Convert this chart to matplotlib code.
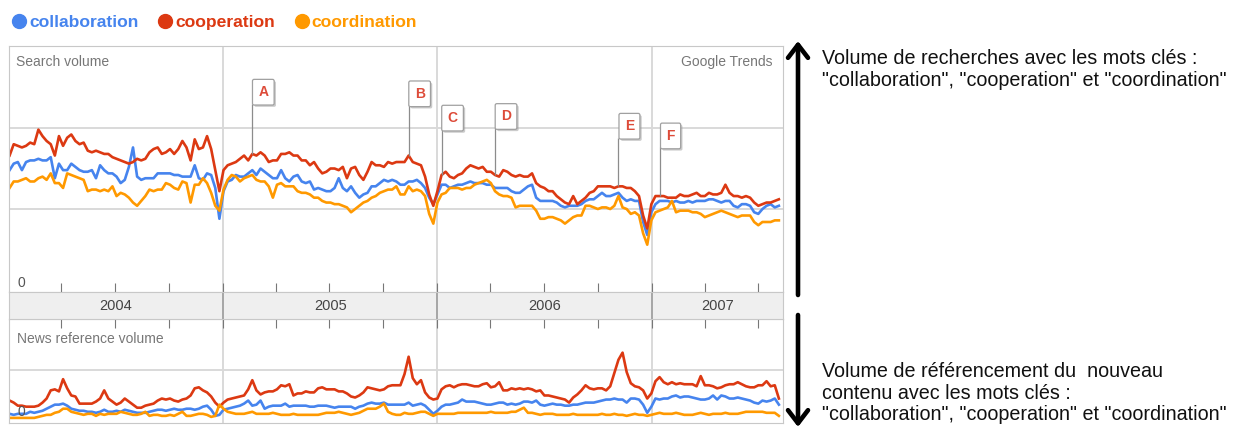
import pandas as pd
import matplotlib
matplotlib.use('Agg')
import matplotlib.pyplot as plt
import matplotlib.transforms as mtransforms
import matplotlib.patheffects as pe
from matplotlib.lines import Line2D
from matplotlib.patches import FancyArrowPatch

plt.rcParams['font.family'] = ['Liberation Sans', 'DejaVu Sans']

# weekly points, Google Trends export
weeks = pd.date_range('2004-01-04', periods=188, freq='7D')
terms = ['collaboration', 'cooperation', 'coordination']
years = ['2004', '2005', '2006', '2007']

search_collaboration = [
    74, 78, 79, 74, 79, 80, 80, 81, 80, 80,
    82, 69, 78, 74, 74, 78, 76, 74, 73, 73,
    74, 69, 77, 74, 72, 72, 70, 66, 68, 76,
    88, 70, 68, 69, 69, 69, 72, 72, 72, 72,
    71, 71, 70, 70, 70, 77, 69, 68, 72, 71,
    63, 44, 61, 67, 68, 71, 70, 70, 72, 74,
    71, 75, 73, 71, 69, 69, 74, 69, 67, 70,
    71, 67, 66, 67, 62, 63, 62, 61, 61, 63,
    69, 63, 61, 64, 60, 57, 59, 60, 64, 64,
    66, 68, 67, 68, 67, 65, 65, 67, 67, 68,
    66, 63, 57, 53, 59, 65, 65, 63, 64, 65,
    65, 66, 67, 66, 66, 66, 65, 65, 63, 63,
    63, 63, 61, 60, 60, 62, 64, 65, 57, 55,
    55, 55, 55, 54, 52, 51, 52, 52, 52, 53,
    55, 56, 56, 58, 60, 58, 58, 59, 60, 57,
    55, 56, 55, 55, 42, 34, 48, 53, 55, 55,
    55, 54, 55, 54, 54, 55, 54, 55, 55, 55,
    56, 56, 55, 54, 55, 55, 52, 51, 53, 53,
    52, 48, 47, 50, 52, 53, 51, 52]

search_cooperation = [
    83, 90, 89, 88, 89, 91, 90, 99, 95, 92,
    90, 83, 95, 89, 94, 96, 92, 90, 91, 86,
    85, 86, 85, 84, 84, 82, 81, 80, 79, 78,
    79, 81, 80, 81, 85, 87, 88, 84, 85, 87,
    84, 87, 92, 88, 80, 93, 87, 88, 95, 87,
    74, 61, 74, 77, 78, 79, 81, 83, 80, 84,
    83, 85, 83, 79, 80, 80, 84, 84, 85, 83,
    83, 80, 80, 77, 79, 75, 72, 73, 75, 75,
    74, 76, 69, 75, 76, 71, 68, 73, 79, 77,
    77, 76, 79, 78, 79, 79, 79, 83, 79, 78,
    77, 70, 59, 52, 61, 71, 73, 70, 69, 71,
    72, 75, 77, 76, 75, 76, 73, 73, 71, 70,
    74, 73, 71, 70, 71, 70, 70, 72, 66, 64,
    63, 61, 61, 58, 56, 54, 53, 58, 53, 55,
    57, 60, 61, 64, 64, 64, 64, 63, 64, 64,
    63, 63, 61, 58, 46, 38, 53, 58, 58, 58,
    57, 57, 57, 59, 58, 58, 59, 60, 58, 58,
    60, 59, 59, 60, 65, 60, 58, 58, 57, 58,
    57, 54, 52, 53, 54, 54, 55, 56]

search_coordination = [
    63, 67, 67, 68, 69, 67, 67, 69, 70, 68,
    72, 66, 66, 63, 72, 71, 70, 69, 68, 61,
    62, 62, 61, 62, 61, 64, 58, 60, 59, 57,
    54, 52, 55, 58, 62, 61, 62, 62, 66, 65,
    63, 62, 67, 66, 54, 65, 65, 69, 66, 60,
    52, 49, 62, 68, 71, 70, 67, 69, 70, 71,
    68, 67, 67, 64, 57, 65, 66, 64, 64, 64,
    61, 60, 60, 59, 57, 57, 55, 54, 54, 53,
    53, 52, 51, 48, 50, 52, 54, 55, 57, 58,
    60, 61, 62, 62, 64, 59, 59, 64, 61, 62,
    61, 58, 47, 41, 54, 59, 60, 63, 63, 63,
    62, 63, 63, 65, 66, 67, 68, 66, 61, 59,
    58, 58, 57, 51, 52, 52, 52, 52, 49, 44,
    44, 45, 45, 44, 43, 41, 43, 45, 46, 46,
    52, 52, 51, 50, 51, 51, 50, 52, 58, 51,
    50, 47, 48, 46, 35, 28, 43, 48, 49, 50,
    51, 55, 48, 49, 49, 49, 48, 48, 47, 45,
    46, 47, 48, 49, 48, 47, 46, 45, 46, 46,
    46, 42, 40, 42, 42, 42, 43, 43]

news_collaboration = [
    7, 6, 7, 7, 7, 9, 8, 9, 10, 12,
    14, 16, 16, 17, 15, 12, 11, 10, 10, 9,
    9, 8, 9, 11, 9, 9, 10, 9, 11, 10,
    9, 8, 8, 8, 9, 10, 11, 11, 10, 11,
    12, 11, 11, 12, 12, 11, 12, 14, 15, 11,
    5, 6, 11, 12, 13, 14, 15, 17, 20, 15,
    16, 20, 12, 14, 15, 15, 15, 17, 14, 15,
    15, 15, 15, 14, 14, 15, 15, 15, 14, 13,
    14, 14, 14, 14, 12, 14, 15, 17, 18, 17,
    17, 18, 16, 16, 16, 16, 16, 18, 15, 16,
    17, 15, 11, 7, 10, 14, 16, 16, 17, 18,
    21, 19, 19, 19, 18, 17, 16, 16, 17, 18,
    18, 16, 17, 16, 17, 19, 19, 18, 20, 16,
    15, 16, 17, 16, 16, 15, 15, 16, 16, 17,
    18, 18, 18, 19, 20, 21, 21, 22, 21, 21,
    18, 22, 22, 21, 16, 8, 14, 22, 21, 22,
    22, 24, 25, 23, 24, 24, 23, 22, 21, 21,
    22, 25, 21, 25, 24, 22, 22, 23, 22, 21,
    20, 18, 17, 20, 19, 20, 22, 16]

news_cooperation = [
    20, 18, 15, 15, 14, 14, 14, 15, 18, 22,
    30, 31, 29, 41, 32, 25, 24, 17, 17, 17,
    17, 19, 22, 30, 22, 19, 16, 18, 22, 19,
    16, 13, 13, 15, 16, 17, 20, 22, 21, 22,
    20, 19, 21, 22, 25, 32, 33, 30, 28, 24,
    18, 14, 18, 21, 22, 23, 24, 25, 31, 40,
    30, 26, 28, 29, 29, 31, 35, 34, 36, 25,
    27, 27, 29, 28, 28, 32, 33, 31, 31, 31,
    29, 29, 27, 24, 23, 25, 28, 33, 32, 31,
    30, 31, 34, 35, 35, 35, 46, 63, 42, 36,
    40, 28, 23, 21, 22, 31, 34, 35, 33, 35,
    36, 36, 35, 34, 34, 36, 37, 33, 34, 38,
    30, 30, 32, 31, 32, 31, 32, 31, 29, 30,
    25, 25, 24, 23, 22, 21, 18, 23, 26, 30,
    35, 32, 31, 32, 32, 30, 34, 47, 60, 67,
    48, 37, 34, 33, 30, 22, 27, 39, 43, 38,
    36, 38, 36, 37, 36, 36, 36, 34, 44, 35,
    35, 34, 32, 33, 35, 36, 36, 38, 36, 34,
    33, 33, 35, 35, 39, 34, 35, 22]

news_coordination = [
    3, 3, 3, 3, 3, 3, 3, 4, 5, 6,
    6, 8, 9, 12, 12, 9, 8, 7, 6, 7,
    7, 5, 7, 6, 7, 7, 7, 9, 8, 7,
    6, 6, 7, 9, 5, 6, 6, 5, 5, 6,
    5, 7, 9, 5, 5, 6, 7, 7, 6, 4,
    5, 16, 12, 9, 8, 7, 7, 7, 8, 9,
    7, 7, 7, 7, 8, 7, 6, 6, 6, 7,
    6, 6, 6, 6, 6, 6, 7, 8, 8, 8,
    9, 8, 7, 6, 7, 8, 10, 12, 12, 12,
    14, 17, 9, 7, 6, 6, 8, 7, 7, 8,
    9, 9, 7, 5, 7, 7, 7, 7, 7, 8,
    8, 8, 8, 8, 8, 8, 8, 9, 8, 8,
    8, 8, 9, 9, 11, 13, 8, 8, 7, 6,
    7, 7, 7, 6, 6, 6, 6, 7, 6, 6,
    6, 6, 6, 6, 7, 6, 6, 7, 6, 6,
    5, 6, 7, 6, 6, 5, 6, 7, 8, 7,
    7, 7, 8, 7, 6, 6, 6, 7, 8, 7,
    6, 7, 7, 7, 8, 7, 7, 7, 8, 9,
    9, 9, 9, 9, 8, 8, 8, 5]

# news events flagged on the search chart
event_letters = ['A', 'B', 'C', 'D', 'E', 'F']
event_weeks = [59, 97, 105, 118, 148, 158]
event_label_y = [115, 114, 99, 100, 94, 88]  # where the flag box sits

colors = ['#4684ee', '#dc3912', '#ff9900']
grid_c = '#d9d9d9'
frame_c = '#c8c8c8'

W, H = 1239, 428
fig = plt.figure(figsize=(W / 100, H / 100), dpi=100)


def px_box(x0, y0, x1, y1):
    return [x0 / W, 1 - y1 / H, (x1 - x0) / W, (y1 - y0) / H]


ax_top = fig.add_axes(px_box(9, 46, 783, 292))
ax_news = fig.add_axes(px_box(9, 319, 783, 423))
ax_band = fig.add_axes(px_box(9, 292, 783, 319))

xmin, xmax = pd.Timestamp('2004-01-03'), pd.Timestamp('2007-08-12')
year_starts = pd.to_datetime(['2005-01-01', '2006-01-01', '2007-01-01'])

for ax in (ax_top, ax_news):
    ax.set_xlim(xmin, xmax)
    ax.set_xticks(year_starts)
    ax.set_axisbelow(True)
    ax.grid(True, color=grid_c, lw=1.4)
    ax.tick_params(length=0, labelbottom=False, labelleft=False)
    for s in ax.spines.values():
        s.set_color(frame_c)

# search volume
search = [search_collaboration, search_cooperation, search_coordination]
for vals, c in zip(search, colors):
    ax_top.plot(weeks, vals, color=c, lw=1.9, solid_joinstyle='round')
ax_top.set_ylim(-1.2, 150.6)
ax_top.set_yticks([50, 100])

tr = mtransforms.blended_transform_factory(ax_top.transAxes, ax_top.transData)
ax_top.text(0.0105, 4.5, '0', transform=tr, fontsize=10, color='#555', va='center')
ax_top.text(0.009, 0.933, 'Search volume', transform=ax_top.transAxes,
            fontsize=10, color='#777', va='center')
ax_top.text(0.987, 0.933, 'Google Trends', transform=ax_top.transAxes,
            fontsize=10, color='#777', va='center', ha='right')

for letter, k, ly in zip(event_letters, event_weeks, event_label_y):
    d = weeks[k]
    ax_top.vlines(d, search_cooperation[k], ly, color='#8c8c8c', lw=0.9, zorder=4)
    t = ax_top.annotate(letter, xy=(d, ly), xytext=(11, 11.5),
                        textcoords='offset pixels', ha='center', va='center',
                        fontsize=10, fontweight='bold', color='#dd4b39', zorder=6,
                        bbox=dict(boxstyle='round,pad=0.42,rounding_size=0.12',
                                  fc='white', ec='#a0a0a0', lw=0.9))
    t.get_bbox_patch().set_path_effects([
        pe.SimplePatchShadow(offset=(1.3, -1.3), shadow_rgbFace='#999999', alpha=0.5),
        pe.Normal()])

# news reference volume
news = [news_collaboration, news_cooperation, news_coordination]
for vals, c in zip(news, colors):
    ax_news.plot(weeks, vals, color=c, lw=1.9, solid_joinstyle='round')
ax_news.set_ylim(-2, 100)
ax_news.set_yticks([50])
trn = mtransforms.blended_transform_factory(ax_news.transAxes, ax_news.transData)
ax_news.text(0.011, 9, '0', transform=trn, fontsize=10, color='#555', va='center')
ax_news.text(0.0107, 80.4, 'News reference volume', transform=trn,
             fontsize=10, color='#777', va='center')

# year band between the two charts
ax_band.set_xlim(xmin, xmax)
ax_band.set_ylim(0, 1)
ax_band.set_facecolor('#efefef')
ax_band.set_yticks([])
ax_band.set_xticks(pd.date_range('2004-04-01', '2007-07-01', freq='QS'))
ax_band.tick_params(axis='x', direction='out', length=6.5, width=0.8, color='#777',
                    top=True, bottom=True, labelbottom=False)
for s in ax_band.spines.values():
    s.set_color(frame_c)
for d in year_starts:
    ax_band.axvline(d, color='#999', lw=1.2)
for y in years:
    y0 = max(pd.Timestamp(y + '-01-01'), xmin)
    y1 = min(pd.Timestamp(str(int(y) + 1) + '-01-01'), xmax)
    ax_band.text(y0 + (y1 - y0) / 2, 0.5, y, ha='center', va='center',
                 fontsize=10.5, color='#444')

# legend on top
handles = [Line2D([], [], marker='o', ls='', color=c, markersize=10) for c in colors]
fig.legend(handles, terms, loc='center left', bbox_to_anchor=(12.3 / W, 1 - 22.5 / H),
           ncol=3, frameon=False, borderpad=0, borderaxespad=0, handlelength=0.8,
           handletextpad=0.15, columnspacing=1.14, labelcolor=colors,
           prop={'weight': 'bold', 'size': 12.6})

# arrows + explanations on the right
for a, b in [((798, 295), (798, 41)), ((798, 315), (798, 427))]:
    fig.add_artist(FancyArrowPatch((a[0] / W, 1 - a[1] / H), (b[0] / W, 1 - b[1] / H),
                                   transform=fig.transFigure,
                                   arrowstyle='->,head_length=0.47,head_width=0.36',
                                   mutation_scale=20, lw=3.3, color='black',
                                   shrinkA=0, shrinkB=0))

quoted = '"collaboration", "cooperation" et "coordination"'
right_lines = [('Volume de recherches avec les mots clés :', 58.3),
               (quoted, 80),
               ('Volume de référencement du  nouveau', 371.7),
               ('contenu avec les mots clés :', 393.3),
               (quoted, 415)]
for txt, y in right_lines:
    fig.text(822 / W, 1 - y / H, txt, fontsize=14.2, color='#111', va='center')

fig.savefig('out.png', dpi=100)
